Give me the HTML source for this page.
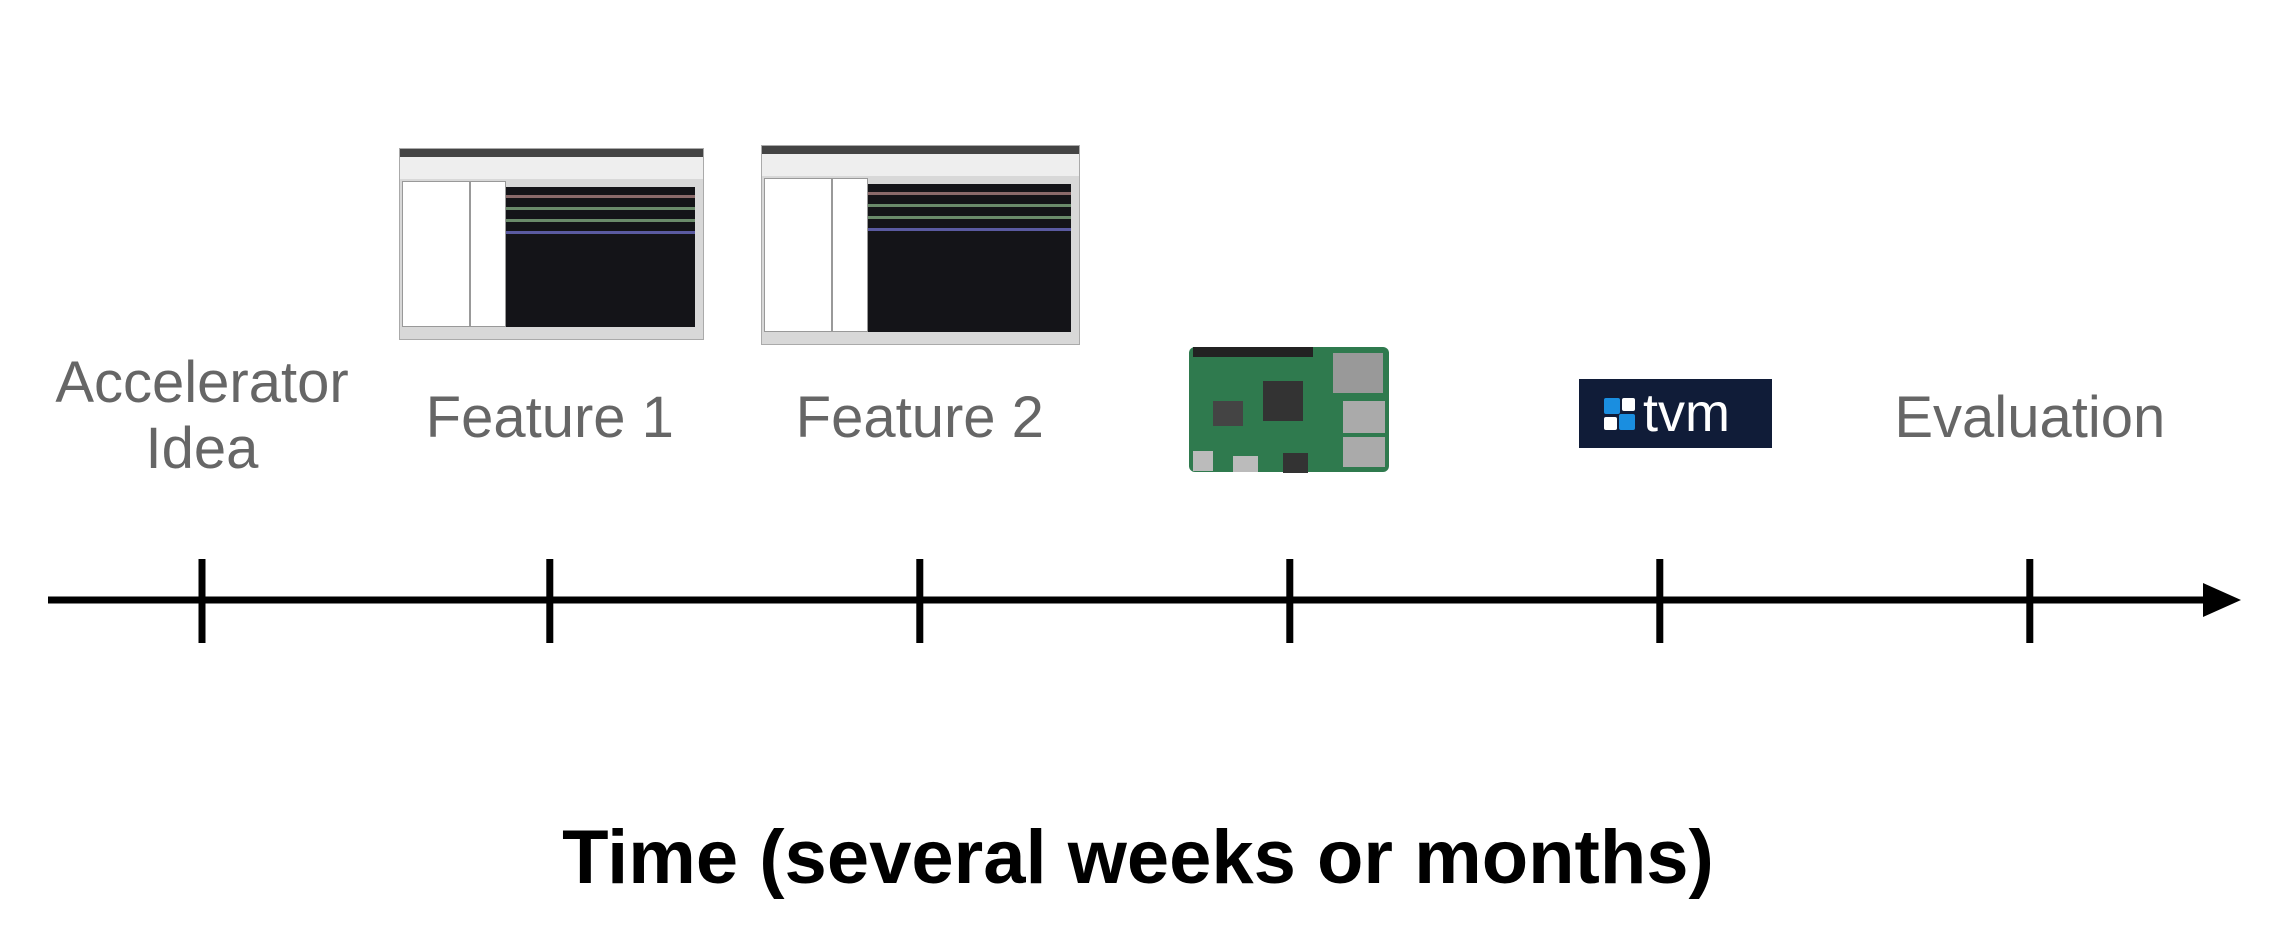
<!DOCTYPE html>
<html><head><meta charset="utf-8">
<style>
html,body{margin:0;padding:0;background:#fff;}
#root{position:relative;width:2276px;height:932px;overflow:hidden;font-family:"Liberation Sans",Arial,sans-serif;}
.lbl{position:absolute;color:#666;font-size:58px;text-align:center;line-height:66px;transform:translateX(-50%);white-space:nowrap;}
.shot{position:absolute;background:#d8d8d8;border:1px solid #aaa;box-sizing:border-box;}
.shot .bar{position:absolute;left:0;right:0;top:0;height:8px;background:#444;}
.shot .menu{position:absolute;left:0;right:0;top:8px;height:22px;background:#eee;}
.shot .tree{position:absolute;left:2px;top:32px;width:66px;bottom:12px;background:#fff;border:1px solid #999;}
.shot .sig{position:absolute;left:70px;top:32px;width:34px;bottom:12px;background:#fff;border:1px solid #999;}
.shot .wave{position:absolute;left:106px;top:38px;right:8px;bottom:12px;background:#141418;}
.shot .w1{position:absolute;left:0;right:0;height:3px;}
</style></head>
<body>
<div id="root">
<svg id="axis" width="2276" height="932" style="position:absolute;left:0;top:0"></svg>

<div class="shot" style="left:399px;top:148px;width:305px;height:192px">
 <div class="bar"></div><div class="menu"></div><div class="tree"></div><div class="sig"></div>
 <div class="wave"><div class="w1" style="top:8px;background:#8a6a6a"></div><div class="w1" style="top:20px;background:#6a8a6a"></div><div class="w1" style="top:32px;background:#6a8a6a"></div><div class="w1" style="top:44px;background:#5a5aa0"></div></div>
</div>
<div class="shot" style="left:761px;top:145px;width:319px;height:200px">
 <div class="bar"></div><div class="menu"></div><div class="tree"></div><div class="sig"></div>
 <div class="wave"><div class="w1" style="top:8px;background:#8a6a6a"></div><div class="w1" style="top:20px;background:#6a8a6a"></div><div class="w1" style="top:32px;background:#6a8a6a"></div><div class="w1" style="top:44px;background:#5a5aa0"></div></div>
</div>

<svg style="position:absolute;left:1183px;top:341px" width="213" height="141">
 <rect x="6" y="6" width="200" height="125" rx="6" fill="#2f7a4e"/>
 <rect x="10" y="6" width="120" height="10" fill="#222"/>
 <rect x="150" y="12" width="50" height="40" fill="#999"/>
 <rect x="160" y="60" width="42" height="32" fill="#aaa"/>
 <rect x="160" y="96" width="42" height="30" fill="#aaa"/>
 <rect x="80" y="40" width="40" height="40" fill="#333"/>
 <rect x="30" y="60" width="30" height="25" fill="#444"/>
 <rect x="10" y="110" width="20" height="20" fill="#bbb"/>
 <rect x="50" y="115" width="25" height="16" fill="#bbb"/>
 <rect x="100" y="112" width="25" height="20" fill="#333"/>
</svg>

<div style="position:absolute;left:1579px;top:379px;width:193px;height:69px;background:#101c38">
 <div style="position:absolute;left:25px;top:19px;width:16px;height:16px;background:#1a8ee0;border-radius:2px"></div>
 <div style="position:absolute;left:43px;top:19px;width:13px;height:13px;background:#fff;border-radius:2px"></div>
 <div style="position:absolute;left:25px;top:38px;width:13px;height:13px;background:#fff;border-radius:2px"></div>
 <div style="position:absolute;left:40px;top:35px;width:16px;height:16px;background:#1a8ee0;border-radius:2px"></div>
 <div style="position:absolute;left:64px;top:4px;color:#fff;font-size:54px;line-height:60px;font-family:'Liberation Sans',sans-serif">tvm</div>
</div>

<div id="labels"></div>
<div style="position:absolute;left:0;width:2276px;top:815px;text-align:center;font-weight:bold;font-size:76px;line-height:86px;color:#000">Time (several weeks or months)</div>
</div>
<script>
var milestones=["Accelerator Idea","Feature 1","Feature 2","Raspberry Pi","TVM","Evaluation"];
var milestonePos=[0,0.94,1.94,2.94,3.94,4.94];
var textLabels=[["Accelerator","Idea"],["Feature 1"],["Feature 2"],[],[],["Evaluation"]];
var x0=202,step=370,axisY=600;
function xs(v){return x0+v*step;}
var svg=document.getElementById('axis'),NS='http://www.w3.org/2000/svg';
var ln=document.createElementNS(NS,'line');
ln.setAttribute('x1',48);ln.setAttribute('x2',2215);ln.setAttribute('y1',axisY);ln.setAttribute('y2',axisY);
ln.setAttribute('stroke','#000');ln.setAttribute('stroke-width',7);


svg.appendChild(ln);
var ar=document.createElementNS(NS,'polygon');
ar.setAttribute('points','2203,583 2241,600 2203,617');ar.setAttribute('fill','#000');


svg.appendChild(ar);
var lab=document.getElementById('labels');
milestones.forEach(function(m,i){
  var x=xs(milestonePos[i]);
  var t=document.createElementNS(NS,'line');
  t.setAttribute('x1',x);t.setAttribute('x2',x);t.setAttribute('y1',559);t.setAttribute('y2',643);
  t.setAttribute('stroke','#000');t.setAttribute('stroke-width',7);
  
  
  svg.appendChild(t);
  var L=textLabels[i];
  if(L.length){
    var d=document.createElement('div');d.className='lbl';
    d.style.left=x+'px';
    d.style.top=(L.length==2?350:385)+'px';
    d.innerHTML=L.join('<br>');
    
    
    lab.appendChild(d);
  }
});
</script>
</body></html>
